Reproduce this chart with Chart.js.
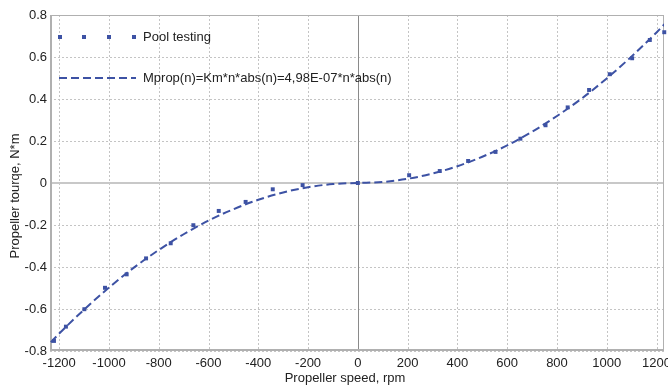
<!DOCTYPE html>
<html>
<head>
<meta charset="utf-8">
<style>
  html, body { margin: 0; padding: 0; background: #fff; }
  #wrap { width: 668px; height: 387px; }
</style>
<script src="https://cdn.jsdelivr.net/npm/chart.js@4.4.1/dist/chart.umd.min.js"></script>
</head>
<body>
<div id="wrap"><canvas id="torque_chart"></canvas></div>
<script>
// pool test measurements
const testSpeed = [-1221, -1173, -1099, -1016, -929, -851, -752, -661, -559, -451, -342, -222, 0,
  206, 329, 443, 553, 653, 754, 843, 929, 1012, 1102, 1173, 1231];
const testTorque = [-0.752, -0.684, -0.601, -0.499, -0.435, -0.359, -0.287, -0.201, -0.133, -0.090, -0.030, -0.010, 0,
  0.037, 0.057, 0.105, 0.148, 0.211, 0.275, 0.360, 0.443, 0.518, 0.594, 0.681, 0.718];

// fitted curve Mprop(n)
const fitSpeed = [-1300, -1200, -1100, -1000, -900, -800, -700, -600, -500, -400, -300, -200, -100, 0,
  100, 200, 300, 400, 500, 600, 700, 800, 900, 1000, 1100, 1200, 1300];
const fitTorque = [-0.842, -0.717, -0.603, -0.498, -0.403, -0.319, -0.244, -0.179, -0.125, -0.080, -0.045, -0.020, -0.005, 0,
  0.005, 0.020, 0.045, 0.080, 0.125, 0.179, 0.244, 0.319, 0.403, 0.498, 0.603, 0.717, 0.842];

const xTicks = [-1200, -1000, -800, -600, -400, -200, 0, 200, 400, 600, 800, 1000, 1200];
const yTicks = [-0.8, -0.6, -0.4, -0.2, 0, 0.2, 0.4, 0.6, 0.8];

const xTitle = "Propeller speed, rpm";
const yTitle = "Propeller tourqe, N*m";

const blue = "#3d52a4";
const FONT = "'Liberation Sans', Arial, sans-serif";

Chart.defaults.font.family = FONT;
Chart.defaults.font.size = 13;
Chart.defaults.color = "#222";

// grid and frame drawn under the series
const gridPlugin = {
  id: "gridPlugin",
  beforeDatasetsDraw(chart) {
    const { ctx, chartArea: a, scales } = chart;
    ctx.save();
    ctx.lineWidth = 1;
    ctx.strokeStyle = "#c4c4c4";
    ctx.setLineDash([2, 2]);
    xTicks.forEach(function (v) {
      if (v === 0) return;
      const px = Math.round(scales.x.getPixelForValue(v)) + 0.5;
      ctx.beginPath(); ctx.moveTo(px, a.top); ctx.lineTo(px, a.bottom); ctx.stroke();
    });
    yTicks.forEach(function (v) {
      if (v === 0) return;
      const py = Math.round(scales.y.getPixelForValue(v)) + 0.5;
      ctx.beginPath(); ctx.moveTo(a.left, py); ctx.lineTo(a.right, py); ctx.stroke();
    });
    ctx.setLineDash([]);
    // zero lines
    const y0 = Math.round(scales.y.getPixelForValue(0));
    ctx.strokeStyle = "#c8c8c8";
    ctx.lineWidth = 2;
    ctx.beginPath(); ctx.moveTo(a.left, y0); ctx.lineTo(a.right, y0); ctx.stroke();
    const x0 = Math.round(scales.x.getPixelForValue(0)) + 0.5;
    ctx.strokeStyle = "#8a8a8a";
    ctx.lineWidth = 1;
    ctx.beginPath(); ctx.moveTo(x0, a.top); ctx.lineTo(x0, a.bottom); ctx.stroke();
    // frame
    ctx.strokeStyle = "#b0b0b0";
    ctx.lineWidth = 1;
    ctx.strokeRect(a.left + 0.5, a.top + 0.5, a.right - a.left - 1, a.bottom - a.top - 1);
    ctx.lineWidth = 2;
    ctx.beginPath();
    ctx.moveTo(a.left + 1, a.top); ctx.lineTo(a.left + 1, a.bottom - 1); ctx.lineTo(a.right, a.bottom - 1);
    ctx.stroke();
    ctx.restore();
  },
};

// legend inside the plot plus the axis titles
const legendPlugin = {
  id: "legendPlugin",
  afterDraw(chart) {
    const { ctx } = chart;
    const ds = chart.data.datasets;
    ctx.save();
    ctx.font = "13px " + FONT;
    ctx.textBaseline = "middle";
    ctx.fillStyle = blue;
    [60, 84, 109, 134].forEach(function (x) {
      ctx.fillRect(x - 2, 37 - 2, 4, 4);
    });
    ctx.strokeStyle = blue;
    ctx.lineWidth = 2;
    ctx.setLineDash([8, 4]);
    ctx.beginPath(); ctx.moveTo(59, 78); ctx.lineTo(136, 78); ctx.stroke();
    ctx.setLineDash([]);
    ctx.fillStyle = "#222";
    ctx.fillText(ds[0].label, 143, 37);
    ctx.fillText(ds[1].label, 143, 78);

    ctx.textAlign = "center";
    ctx.fillText(xTitle, 345, 378);
    ctx.translate(15, 196);
    ctx.rotate(-Math.PI / 2);
    ctx.fillText(yTitle, 0, 0);
    ctx.restore();
  },
};

const chart = new Chart(document.getElementById("torque_chart"), {
  type: "scatter",
  data: {
    datasets: [
      {
        label: "Pool testing",
        data: testSpeed.map(function (n, i) { return { x: n, y: testTorque[i] }; }),
        pointStyle: "rect",
        pointRadius: 2.8,
        pointBorderWidth: 0,
        backgroundColor: blue,
        borderColor: blue,
        clip: 4,
      },
      {
        label: "Mprop(n)=Km*n*abs(n)=4,98E-07*n*abs(n)",
        type: "line",
        data: fitSpeed.map(function (n, i) { return { x: n, y: fitTorque[i] }; }),
        showLine: true,
        borderColor: blue,
        borderWidth: 2,
        borderDash: [8, 4],
        pointRadius: 0,
        cubicInterpolationMode: "monotone",
        clip: 0,
      },
    ],
  },
  options: {
    responsive: true,
    maintainAspectRatio: false,
    animation: false,
    layout: { padding: { top: 15, right: 4, left: 0, bottom: 0 } },
    plugins: {
      legend: { display: false },
      tooltip: { enabled: false },
    },
    scales: {
      x: {
        type: "linear",
        min: -1237,
        max: 1230,
        afterBuildTicks: function (axis) {
          axis.ticks = xTicks.map(function (v) { return { value: v }; });
        },
        afterFit: function (axis) {
          axis.height = 36;
          axis.paddingLeft = 0;
          axis.paddingRight = 0;
        },
        grid: { display: false, drawTicks: false },
        border: { display: false },
        ticks: {
          padding: 5,
          maxRotation: 0,
          autoSkip: false,
          color: "#222",
          callback: function (v) { return String(v); },
        },
        title: { display: false },
      },
      y: {
        type: "linear",
        min: -0.8,
        max: 0.8,
        afterBuildTicks: function (axis) {
          axis.ticks = yTicks.map(function (v) { return { value: v }; });
        },
        afterFit: function (axis) {
          axis.width = 50;
          axis.paddingTop = 0;
          axis.paddingBottom = 0;
        },
        grid: { display: false, drawTicks: false },
        border: { display: false },
        ticks: {
          padding: 3,
          color: "#222",
          callback: function (v) { return String(Math.round(v * 10) / 10); },
        },
        title: { display: false },
      },
    },
  },
  plugins: [gridPlugin, legendPlugin],
});
</script>
</body>
</html>
